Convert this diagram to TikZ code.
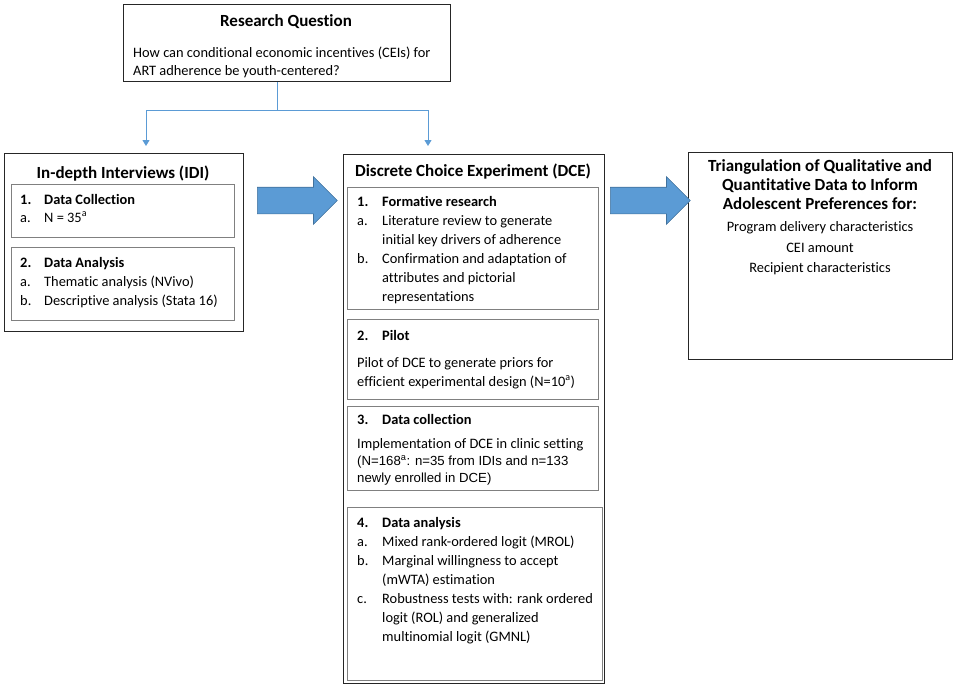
\documentclass[tikz,border=0pt]{standalone}
\usepackage{fontspec}
\setmainfont{Carlito}[Ligatures=NoCommon]
\newfontfamily\arialf{Liberation Sans}
\usetikzlibrary{shapes.arrows,arrows.meta,calc}
\definecolor{arrblue}{HTML}{5B9BD5}
\definecolor{arrline}{HTML}{41719C}
\tikzset{
  outerbox/.style={draw=black!85, line width=1.3pt, inner sep=0pt, anchor=north west},
  innerbox/.style={draw=black!50, line width=1pt, inner sep=0pt, anchor=north west},
  ln/.style={anchor=base west, inner sep=0pt, font=\fontsize{14.4}{19}\selectfont},
  hd/.style={anchor=base west, inner sep=0pt, font=\bfseries\fontsize{14.4}{19}\selectfont},
  ctr/.style={anchor=base, inner sep=0pt, font=\fontsize{14.4}{19}\selectfont},
  ttl/.style={anchor=base, inner sep=0pt, font=\bfseries\fontsize{17}{20}\selectfont},
  ar/.style={anchor=base west, inner sep=0pt, font=\arialf\fontsize{13.2}{17}\selectfont},
  conn/.style={draw=arrblue, line width=1pt},
  connarr/.style={conn, -{Triangle[length=6pt,width=7pt]}},
  blockarrow/.style={single arrow, draw=arrline, fill=arrblue, line width=0.6pt,
    minimum height=80pt, text height=13pt, text depth=13pt, text width=0pt,
    single arrow head extend=10.5pt,
    single arrow tip angle=90, inner sep=0pt, anchor=tail, shape border rotate=0}
}
\begin{document}
\begin{tikzpicture}[x=1pt,y=-1pt]
\useasboundingbox (0,0) rectangle (956,686);
% boxes
\node[outerbox, minimum width=327pt, minimum height=77pt] (rq) at (123,4) {};
\node[outerbox, minimum width=239pt, minimum height=178pt] (idi) at (4,153) {};
\node[innerbox, minimum width=223pt, minimum height=53pt] (idi1) at (11,184) {};
\node[innerbox, minimum width=223pt, minimum height=73pt] (idi2) at (11,247) {};
\node[outerbox, minimum width=261pt, minimum height=529pt] (dce) at (343,154) {};
\node[innerbox, minimum width=251pt, minimum height=122pt] (dce1) at (347,187) {};
\node[innerbox, minimum width=251pt, minimum height=80pt] (dce2) at (347,319) {};
\node[innerbox, minimum width=251pt, minimum height=84pt] (dce3) at (347,406) {};
\node[innerbox, minimum width=255pt, minimum height=173pt] (dce4) at (347,507) {};
\node[outerbox, minimum width=264pt, minimum height=207pt] (tri) at (688,152) {};

% research question
\node[ttl] (rqt) at (286,26) {Research Question};
\node[ln] (rq1) at (133,57) {How can conditional economic incentives (CEIs) for};
\node[ln] (rq2) at (133,75) {ART adherence be youth-centered?};

% connectors
\coordinate (split) at (277,110);
\coordinate (idiin) at (146,146);
\coordinate (dcein) at (428,146);
\draw[conn] (split |- rq.south) -- (split);
\draw[connarr] (split) -| (idiin);
\draw[connarr] (split) -| (dcein);

% IDI
\node[ttl] (idit) at (123,178) {In-depth Interviews (IDI)};
\node[hd] (idi1n) at (20,204) {1.};
\node[hd] (idi1h) at (44,204) {Data Collection};
\node[ln] (idi1a) at (20,222) {a.};
\node[ln] (idi1at) at (44,222) {N = 35\textsuperscript{a}};
\node[hd] (idi2n) at (20,267) {2.};
\node[hd] (idi2h) at (44,267) {Data Analysis};
\node[ln] (idi2a) at (20,286) {a.};
\node[ln] (idi2at) at (44,286) {Thematic analysis (NVivo)};
\node[ln] (idi2b) at (20,305) {b.};
\node[ln] (idi2bt) at (44,305) {Descriptive analysis (Stata 16)};

% block arrows
\node[blockarrow] (ba1) at (257,200.5) {};
\node[blockarrow] (ba2) at (610,200.5) {};

% DCE
\node[ttl] (dcet) at (473,176) {Discrete Choice Experiment (DCE)};
\node[hd] (d1n) at (357,206) {1.};
\node[hd] (d1h) at (382,206) {Formative research};
\node[ln] (d1a) at (357,225) {a.};
\node[ln] (d1at) at (382,225) {Literature review to generate};
\node[ln] (d1at2) at (382,244) {initial key drivers of adherence};
\node[ln] (d1b) at (357,263) {b.};
\node[ln] (d1bt) at (382,263) {Confirmation and adaptation of};
\node[ln] (d1bt2) at (382,282) {attributes and pictorial};
\node[ln] (d1bt3) at (382,301) {representations};

\node[hd] (d2n) at (357,340) {2.};
\node[hd] (d2h) at (382,340) {Pilot};
\node[ln] (d2t1) at (357,367) {Pilot of DCE to generate priors for};
\node[ln] (d2t2) at (357,386) {efficient experimental design (N=10\textsuperscript{a})};

\node[hd] (d3n) at (357,424) {3.};
\node[hd] (d3h) at (382,424) {Data collection};
\node[ln] (d3t1) at (357,448) {Implementation of DCE in clinic setting};
\node[ar] (d3t2) at (357,465) {(N=168\textsuperscript{a}: n=35 from IDIs and n=133};
\node[ar] (d3t3) at (357,482) {newly enrolled in DCE)};

\node[hd] (d4n) at (357,527) {4.};
\node[hd] (d4h) at (382,527) {Data analysis};
\node[ln] (d4a) at (357,546) {a.};
\node[ln] (d4at) at (382,546) {Mixed rank-ordered logit (MROL)};
\node[ln] (d4b) at (357,565) {b.};
\node[ln] (d4bt) at (382,565) {Marginal willingness to accept};
\node[ln] (d4bt2) at (382,584) {(mWTA) estimation};
\node[ln] (d4c) at (357,603) {c.};
\node[ln] (d4ct) at (382,603) {Robustness tests with: rank ordered};
\node[ln] (d4ct2) at (382,622) {logit (ROL) and generalized};
\node[ln] (d4ct3) at (382,641) {multinomial logit (GMNL)};

% triangulation
\node[ttl] (tr1) at (820,171) {Triangulation of Qualitative and};
\node[ttl] (tr2) at (820,190) {Quantitative Data to Inform};
\node[ttl] (tr3) at (820,209) {Adolescent Preferences for:};
\node[ctr] (tr4) at (820,231) {Program delivery characteristics};
\node[ctr] (tr5) at (820,252) {CEI amount};
\node[ctr] (tr6) at (820,272) {Recipient characteristics};
\end{tikzpicture}
\end{document}
